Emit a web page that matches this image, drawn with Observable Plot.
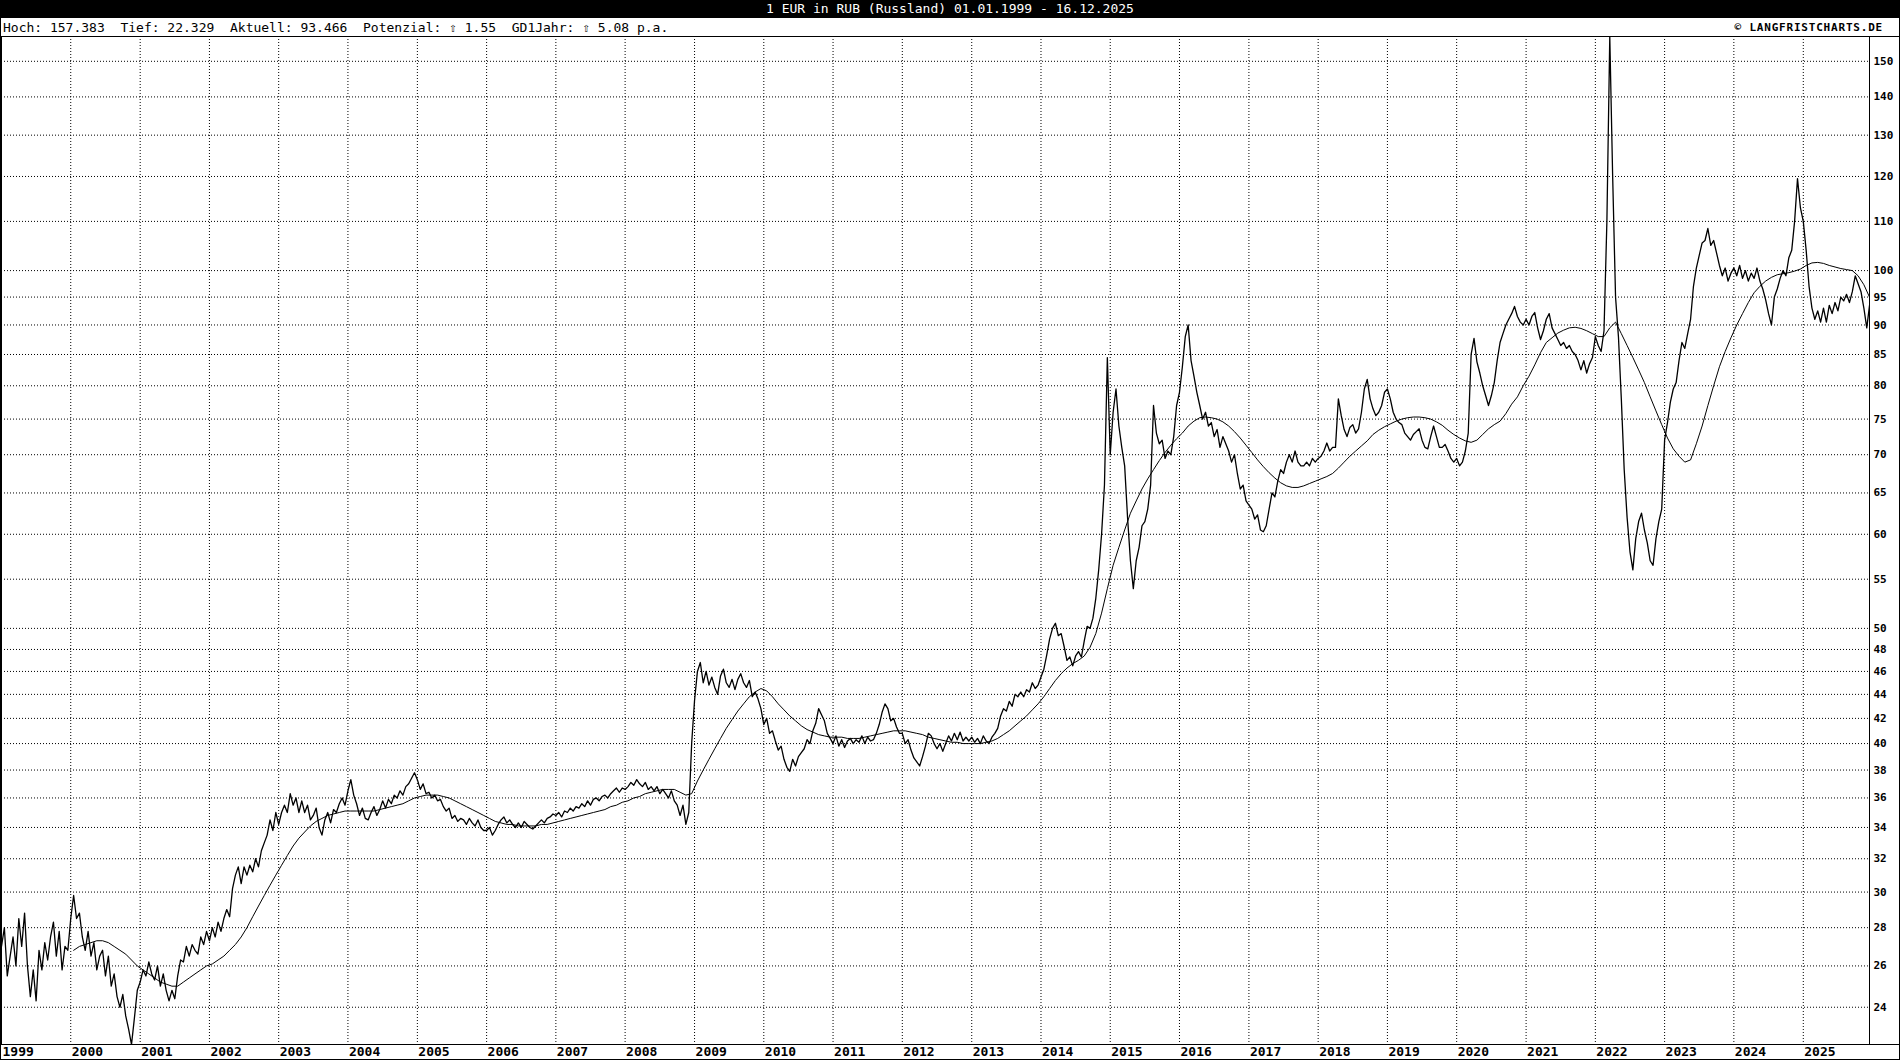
<!DOCTYPE html>
<html>
<head>
<meta charset="utf-8">
<script src="https://cdn.jsdelivr.net/npm/d3@7"></script>
<script src="https://cdn.jsdelivr.net/npm/@observablehq/plot@0.6"></script>
<style>
html, body { margin: 0; padding: 0; background: #fff; }
#page { position: relative; width: 1900px; height: 1060px; overflow: hidden; background: #fff; font-family: "DejaVu Sans Mono", monospace; color: #000; }
#titlebar { position: absolute; left: 0; top: 0; width: 1900px; height: 18px; background: #000; color: #fff; font-size: 13px; line-height: 18px; text-align: center; white-space: pre; }
#info { position: absolute; left: 3px; top: 18px; height: 18px; line-height: 19px; font-size: 13px; white-space: pre; }
#copy { position: absolute; right: 17px; top: 18px; height: 18px; line-height: 19px; font-size: 11px; font-weight: bold; letter-spacing: 0.8px; white-space: pre; }
#chart { position: absolute; left: 0; top: 36px; }
#border { position: absolute; left: 0; top: 18px; width: 1900px; height: 1042px; box-sizing: border-box; border: 1px solid #000; border-top: none; pointer-events: none; }
.hline { position: absolute; left: 0; width: 1900px; height: 1px; background: #000; }
</style>
</head>
<body>
<div id="page">
  <div id="titlebar"></div>
  <div id="info"></div>
  <div id="copy"></div>
  <div id="chart"></div>
  <div class="hline" style="top:36px"></div>
  <div class="hline" style="top:1044px"></div>
  <div id="border"></div>
</div>
<script>
// ---- texts ----
const titleText = "1 EUR in RUB (Russland) 01.01.1999 - 16.12.2025";
const infoText = "Hoch: 157.383  Tief: 22.329  Aktuell: 93.466  Potenzial: \u21E7 1.55  GD1Jahr: \u21E7 5.08 p.a.";
const copyText = "\u00A9 LANGFRISTCHARTS.DE";

// ---- axis ticks ----
const yTicks = [24, 26, 28, 30, 32, 34, 36, 38, 40, 42, 44, 46, 48, 50, 55, 60, 65, 70, 75, 80, 85, 90, 95, 100, 110, 120, 130, 140, 150];
const years = [1999, 2000, 2001, 2002, 2003, 2004, 2005, 2006, 2007, 2008, 2009, 2010, 2011, 2012, 2013, 2014, 2015, 2016, 2017, 2018, 2019, 2020, 2021, 2022, 2023, 2024, 2025];
const yMin = 22.329, yMax = 157.383;
const startDate = "1999-01-01", endDate = "2025-12-16";

// ---- EUR/RUB, read semi-monthly from the chart, one row per year (1999..2025) ----
const price = [
  [27.0, 28.0, 25.5, 26.5, 27.5, 26.0, 28.5, 27.0, 28.8, 26.0, 24.5, 25.8, 24.3, 26.8, 25.8, 27.2, 26.3, 27.5, 28.3, 26.5, 27.8, 25.8, 27.0, 26.8],
  [28.5, 29.8, 28.5, 28.8, 27.5, 26.8, 27.8, 26.5, 27.2, 25.8, 26.5, 26.8, 25.5, 26.5, 25.0, 25.6, 24.5, 24.0, 24.6, 23.6, 23.0, 22.329, 23.5, 24.8],
  [25.2, 25.8, 25.5, 26.2, 25.6, 25.3, 26.0, 25.0, 25.6, 24.8, 24.3, 24.8, 24.4, 25.5, 26.3, 26.2, 27.0, 26.5, 27.1, 26.8, 26.6, 27.5, 27.1, 27.8],
  [27.3, 28.0, 27.5, 28.3, 27.8, 28.5, 29.0, 28.6, 30.2, 31.0, 31.5, 30.5, 31.5, 31.0, 31.6, 31.2, 32.0, 31.5, 32.5, 33.0, 33.5, 34.5, 33.8, 35.0],
  [34.2, 35.0, 35.5, 35.0, 36.3, 35.5, 36.0, 35.0, 35.8, 35.0, 35.5, 34.5, 34.8, 35.3, 34.0, 33.5, 34.5, 35.0, 34.3, 35.2, 35.0, 35.6, 36.0, 35.5],
  [36.5, 37.3, 36.2, 35.6, 34.8, 35.3, 34.6, 34.5, 35.0, 35.4, 34.8, 35.2, 35.8, 35.3, 35.9, 35.6, 36.2, 36.0, 36.5, 36.2, 36.8, 37.0, 37.4, 37.8],
  [37.3, 36.6, 37.0, 36.3, 36.4, 36.0, 36.2, 35.8, 35.9, 35.4, 35.1, 35.3, 34.6, 34.8, 34.4, 34.6, 34.5, 34.2, 34.6, 34.3, 34.1, 34.5, 34.0, 33.8],
  [33.8, 34.0, 33.5, 33.8, 34.2, 34.5, 34.7, 34.3, 34.5, 34.2, 34.0, 34.3, 34.0, 34.4, 34.2, 34.0, 33.9, 34.1, 34.3, 34.5, 34.3, 34.6, 34.7, 34.9],
  [34.8, 35.0, 34.7, 35.1, 35.0, 35.3, 35.1, 35.4, 35.3, 35.6, 35.4, 35.8, 35.5, 35.9, 36.0, 35.8, 36.1, 36.2, 36.0, 36.3, 36.5, 36.7, 36.4, 36.7],
  [36.6, 36.8, 37.1, 36.9, 37.3, 37.0, 36.8, 37.1, 36.6, 36.8, 36.5, 36.8, 36.3, 36.6, 36.3, 36.0, 36.5, 35.8, 35.5, 34.8, 35.5, 34.2, 35.0, 40.0],
  [43.5, 46.0, 46.8, 45.0, 46.0, 44.8, 45.5, 44.6, 44.0, 45.6, 46.2, 45.0, 44.6, 45.3, 44.4, 45.3, 45.8, 45.0, 44.6, 45.2, 43.8, 44.2, 43.6, 42.8],
  [41.5, 42.0, 40.8, 41.0, 40.2, 39.5, 39.8, 38.8, 38.2, 37.9, 38.8, 38.3, 39.0, 39.3, 39.6, 40.3, 40.0, 41.0, 41.6, 42.8, 42.3, 41.8, 40.8, 40.4],
  [40.0, 40.6, 39.8, 40.3, 39.7, 40.2, 40.4, 40.0, 40.3, 40.1, 40.6, 40.0, 40.5, 40.2, 40.3, 40.8, 41.5, 42.5, 43.2, 42.8, 41.8, 42.0, 41.3, 40.8],
  [40.8, 40.0, 40.3, 39.5, 38.9, 38.6, 38.3, 39.0, 39.8, 40.8, 40.6, 40.0, 39.6, 40.0, 39.4, 40.0, 40.6, 40.2, 40.8, 40.3, 40.9, 40.2, 40.5, 40.2],
  [40.5, 40.1, 40.4, 40.0, 40.6, 40.2, 40.0, 40.5, 40.8, 41.2, 42.2, 42.8, 42.6, 43.4, 43.0, 44.0, 43.8, 44.2, 43.8, 44.4, 44.2, 45.0, 44.5, 44.8],
  [45.5, 46.2, 47.5, 49.0, 50.0, 50.5, 49.3, 49.5, 48.3, 47.0, 47.3, 46.5, 47.4, 47.8, 47.3, 48.8, 50.2, 50.0, 51.0, 53.0, 56.0, 60.0, 66.0, 84.5],
  [70.0, 76.0, 79.5, 74.0, 71.0, 68.5, 62.0, 57.0, 54.0, 57.0, 58.5, 61.0, 61.5, 63.0, 66.0, 77.0, 73.0, 71.5, 72.0, 69.5, 70.5, 70.0, 72.5, 77.0],
  [79.0, 83.0, 88.0, 90.0, 84.0, 81.5, 79.0, 77.0, 75.0, 76.0, 74.0, 74.5, 72.5, 73.5, 71.0, 72.5, 71.5, 70.5, 69.0, 70.0, 67.5, 65.5, 66.0, 64.0],
  [63.5, 63.0, 61.8, 62.3, 60.5, 60.3, 61.0, 63.0, 65.0, 64.5, 66.5, 68.0, 67.5, 69.0, 70.0, 69.0, 70.5, 69.0, 68.5, 68.5, 69.0, 68.5, 69.5, 69.0],
  [69.5, 69.8, 70.5, 71.6, 70.5, 71.0, 71.0, 78.0, 75.5, 73.5, 72.5, 73.8, 74.2, 73.0, 73.6, 76.0, 79.5, 81.0, 78.0, 76.5, 75.5, 76.0, 77.0, 79.0],
  [79.5, 78.0, 76.0, 75.0, 74.5, 74.2, 73.0, 72.5, 72.0, 72.8, 73.2, 73.6, 72.0, 71.0, 70.8, 72.5, 74.0, 72.5, 71.0, 71.0, 71.4, 70.5, 69.5, 69.0],
  [69.5, 68.5, 69.0, 70.5, 73.0, 85.0, 87.7, 83.8, 82.0, 80.0, 78.5, 77.0, 78.5, 80.5, 84.0, 87.0, 88.5, 90.0, 91.0, 92.0, 93.3, 91.5, 90.5, 90.0],
  [91.0, 90.0, 91.5, 92.2, 89.5, 87.5, 89.0, 91.0, 92.0, 89.5, 88.5, 87.5, 86.5, 87.0, 86.0, 86.5, 85.5, 85.0, 84.0, 82.5, 84.0, 82.0, 83.5, 84.5],
  [88.0, 86.5, 85.5, 89.0, 110.0, 157.383, 120.0, 95.0, 88.0, 78.0, 68.0, 62.0, 58.0, 56.0, 59.5, 61.5, 62.5, 60.5, 59.0, 57.0, 56.5, 59.5, 61.5, 63.0],
  [72.0, 74.5, 77.5, 79.5, 80.5, 84.0, 87.0, 86.0, 88.5, 91.0, 97.0, 100.5, 103.0, 105.5, 106.0, 108.5, 105.0, 106.0, 103.5, 101.0, 99.0, 100.5, 98.0, 99.5],
  [100.5, 99.0, 101.0, 98.5, 100.0, 98.0, 99.5, 98.5, 100.5, 98.0, 96.5, 94.5, 92.0, 90.0, 95.0, 96.5, 98.5, 100.0, 99.0, 102.5, 104.0, 110.0, 119.5, 113.0],
  [110.0, 104.0, 97.0, 93.0, 91.0, 92.5, 90.5, 93.0, 90.5, 93.5, 92.0, 94.0, 92.5, 95.0, 94.3, 95.5, 94.0, 96.0, 99.0, 97.5, 96.0, 93.0, 89.5, 93.466]
];

const maFirstYear = 2000;
const ma = [
  [26.8, 27.0, 27.1, 27.2, 27.3, 27.3, 27.2, 27.0, 26.8, 26.6, 26.3, 26.0],
  [25.8, 25.6, 25.4, 25.2, 25.1, 25.0, 25.0, 25.2, 25.4, 25.6, 25.8, 26.0],
  [26.1, 26.3, 26.5, 26.8, 27.1, 27.5, 28.0, 28.6, 29.2, 29.8, 30.4, 31.0],
  [31.6, 32.2, 32.8, 33.3, 33.7, 34.1, 34.4, 34.6, 34.8, 34.9, 35.0, 35.1],
  [35.1, 35.1, 35.1, 35.1, 35.1, 35.2, 35.3, 35.4, 35.5, 35.6, 35.8, 36.0],
  [36.1, 36.2, 36.2, 36.2, 36.1, 36.0, 35.8, 35.6, 35.4, 35.2, 35.0, 34.8],
  [34.6, 34.4, 34.3, 34.2, 34.2, 34.1, 34.1, 34.1, 34.1, 34.2, 34.2, 34.3],
  [34.4, 34.5, 34.6, 34.7, 34.8, 34.9, 35.0, 35.1, 35.2, 35.4, 35.5, 35.7],
  [35.8, 36.0, 36.1, 36.3, 36.4, 36.5, 36.6, 36.6, 36.6, 36.4, 36.2, 36.3],
  [37.2, 38.0, 38.8, 39.6, 40.4, 41.2, 41.9, 42.6, 43.2, 43.8, 44.2, 44.5],
  [44.3, 43.8, 43.2, 42.7, 42.2, 41.8, 41.4, 41.1, 40.9, 40.7, 40.6, 40.5],
  [40.5, 40.5, 40.4, 40.4, 40.4, 40.5, 40.6, 40.7, 40.8, 40.9, 41.0, 41.0],
  [41.0, 40.9, 40.8, 40.7, 40.5, 40.4, 40.3, 40.2, 40.1, 40.1, 40.0, 40.0],
  [40.0, 40.0, 40.1, 40.2, 40.4, 40.7, 41.0, 41.4, 41.8, 42.2, 42.7, 43.2],
  [43.8, 44.5, 45.2, 45.8, 46.3, 46.7, 47.0, 47.4, 48.2, 49.5, 51.5, 54.0],
  [56.5, 58.5, 60.5, 62.5, 64.0, 65.5, 66.8, 68.0, 69.2, 70.3, 71.3, 72.2],
  [73.0, 74.0, 74.7, 75.2, 75.3, 75.2, 75.0, 74.6, 74.0, 73.2, 72.3, 71.3],
  [70.3, 69.3, 68.4, 67.6, 66.9, 66.3, 65.9, 65.7, 65.7, 65.9, 66.2, 66.5],
  [66.8, 67.1, 67.5, 68.2, 69.0, 69.8, 70.5, 71.2, 71.9, 72.8, 73.4, 73.9],
  [74.3, 74.7, 75.0, 75.2, 75.3, 75.3, 75.2, 75.0, 74.6, 74.1, 73.4, 72.8],
  [72.3, 71.9, 71.7, 72.0, 72.8, 73.6, 74.2, 74.7, 75.8, 77.2, 78.3, 80.0],
  [81.5, 83.3, 85.3, 87.0, 87.8, 88.6, 89.1, 89.5, 89.6, 89.4, 89.0, 88.5],
  [88.0, 88.0, 89.5, 90.5, 88.5, 86.5, 84.5, 82.5, 80.5, 78.3, 76.2, 74.2],
  [72.3, 70.8, 69.8, 69.0, 69.3, 71.5, 74.0, 77.0, 80.0, 83.0, 85.5, 87.8],
  [90.0, 92.0, 94.0, 95.8, 97.0, 98.0, 98.7, 99.2, 99.4, 99.6, 99.9, 100.3],
  [101.0, 101.5, 101.6, 101.4, 101.0, 100.7, 100.4, 100.2, 100.0, 99.0, 97.3, 95.0]
];

// ---- build tables ----
const t0 = new Date(startDate + "T00:00:00Z");
const t1 = new Date(endDate + "T00:00:00Z");
function dateIn(year, frac) {
  const a = Date.UTC(year, 0, 1), b = Date.UTC(year + 1, 0, 1);
  return new Date(Math.min(a + frac * (b - a), +t1));
}
const priceData = [];
price.forEach((row, yi) => {
  const year = years[yi];
  row.forEach((v, j) => {
    const isLast = yi === price.length - 1 && j === row.length - 1;
    priceData.push({date: isLast ? t1 : dateIn(year, j / row.length), value: v});
  });
});
const maData = [];
ma.forEach((row, yi) => {
  const year = maFirstYear + yi;
  row.forEach((v, j) => {
    const isLast = yi === ma.length - 1 && j === row.length - 1;
    maData.push({date: isLast ? t1 : dateIn(year, (j + 0.5) / row.length), value: v});
  });
});
const yearDates = years.map(y => new Date(Date.UTC(y, 0, 1)));

document.getElementById("titlebar").textContent = titleText;
document.getElementById("info").textContent = infoText;
document.getElementById("copy").textContent = copyText;

const dotted = {stroke: "#000", strokeOpacity: 1, strokeWidth: 1, strokeDasharray: "1,2"};

const chart = Plot.plot({
  width: 1900,
  height: 1024,
  marginTop: 0,
  marginLeft: 1,
  marginRight: 31,
  marginBottom: 16,
  style: {fontFamily: "'DejaVu Sans Mono', monospace", background: "transparent", overflow: "visible", color: "#000"},
  x: {type: "utc", domain: [t0, t1]},
  y: {type: "log", domain: [yMin, yMax]},
  marks: [
    Plot.gridY(yTicks, dotted),
    Plot.gridX(yearDates.slice(1), dotted),
    Plot.line(maData, {x: "date", y: "value", stroke: "#000", strokeWidth: 1, clip: true}),
    Plot.line(priceData, {x: "date", y: "value", stroke: "#000", strokeWidth: 1.3, clip: true}),
    Plot.frame({stroke: "#000", strokeWidth: 1}),
    Plot.axisY(yTicks, {anchor: "right", tickSize: 0, tickPadding: 4, fontSize: 11, fontWeight: "bold", label: null, tickFormat: d => String(d)}),
    Plot.axisX(yearDates, {anchor: "bottom", tickSize: 0, tickPadding: 2, textAnchor: "start", dx: 1, fontSize: 13, fontWeight: "bold", label: null, tickFormat: d3.utcFormat("%Y")})
  ]
});
document.getElementById("chart").appendChild(chart);
</script>
</body>
</html>
